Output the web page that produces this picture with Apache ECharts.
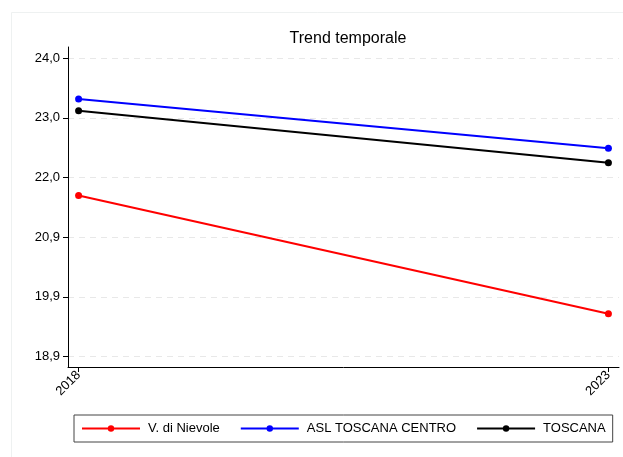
<!DOCTYPE html>
<html>
<head>
<meta charset="utf-8">
<script src="https://cdn.jsdelivr.net/npm/echarts@6/dist/echarts.min.js"></script>
<style>
html,body{margin:0;padding:0;background:#fff;}
#chart{width:623px;height:457px;}
</style>
</head>
<body>
<div id="chart"></div>
<script>
const years = [2018, 2023];
const seriesNames = ['V. di Nievole', 'ASL TOSCANA CENTRO', 'TOSCANA'];
const nievole = [21.65, 19.63];
const aslCentro = [23.30, 22.46];
const toscana = [23.10, 22.21];
const yTicks = [18.9, 19.92, 20.94, 21.96, 22.98, 24.0];
const colors = ['#ff0000', '#0000ff', '#000000'];
const title = 'Trend temporale';

const values = [nievole, aslCentro, toscana];
const chart = echarts.init(document.getElementById('chart'));
const font = 'Liberation Sans, Arial, sans-serif';

chart.setOption({
  animation: false,
  backgroundColor: '#fff',
  textStyle: { fontFamily: font },
  title: {
    text: title,
    left: 343, top: 26, textAlign: 'center',
    textStyle: { fontFamily: font, fontSize: 16, fontWeight: 'normal', color: '#000' }
  },
  graphic: [{
    type: 'rect', left: 9, top: 10, z: -1,
    shape: { width: 640, height: 470 },
    style: { fill: 'none', stroke: '#eef1f1', lineWidth: 1 }
  }],
  grid: { left: 68, right: 4, top: 47, bottom: 90 },
  xAxis: {
    type: 'value', min: 2017.9, max: 2023.1,
    axisLine: { show: true, lineStyle: { color: '#000', width: 1 } },
    axisTick: { show: true, customValues: years, length: 5, lineStyle: { color: '#000' } },
    axisLabel: {
      customValues: years, rotate: 45, margin: 6,
      color: '#000', fontSize: 13, fontFamily: font,
      formatter: v => String(v)
    },
    splitLine: { show: false }
  },
  yAxis: {
    type: 'value', min: 18.72, max: 24.19,
    axisLine: { show: true, lineStyle: { color: '#000', width: 1 } },
    axisTick: { show: true, customValues: yTicks, length: 5, lineStyle: { color: '#000' } },
    axisLabel: {
      customValues: yTicks, margin: 8,
      color: '#000', fontSize: 13, fontFamily: font,
      formatter: v => v.toFixed(1).replace('.', ',')
    },
    splitLine: { show: true, lineStyle: { color: '#e8e8e8', type: [6, 5], width: 1 } }
  },
  legend: {
    left: 74, top: 415, width: 560,
    orient: 'horizontal',
    itemWidth: 58, itemHeight: 8, itemGap: 20,
    padding: [7, 7, 7, 7],
    borderColor: '#444', borderWidth: 1,
    textStyle: { fontFamily: font, fontSize: 13, color: '#000', padding: [0, 0, 0, 3] },
    data: seriesNames
  },
  series: seriesNames.map((name, i) => ({
    name: name,
    type: 'line',
    data: years.map((y, j) => [y, values[i][j]]),
    color: colors[i],
    symbol: 'circle', symbolSize: 7,
    lineStyle: { width: 2, color: colors[i] },
    itemStyle: { color: colors[i] }
  }))
});
</script>
</body>
</html>
